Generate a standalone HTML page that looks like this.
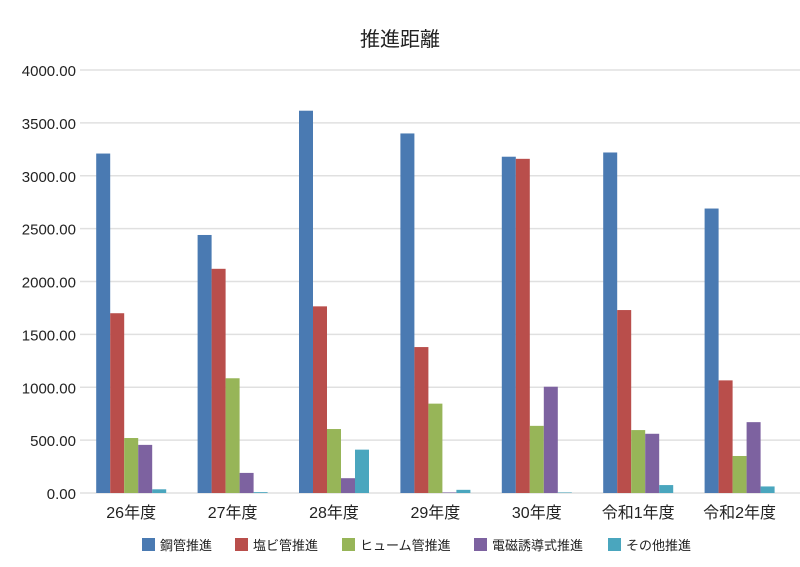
<!DOCTYPE html>
<html><head><meta charset="utf-8"><style>
body{margin:0;background:#fff;}
svg{display:block;font-family:"Liberation Sans","Noto Sans CJK JP",sans-serif;}
</style></head><body>
<svg id="c" width="800" height="567">
<text x="400" y="46" text-anchor="middle" font-size="20" fill="#222">推進距離</text>
<g id="grid"></g><g id="bars"></g><g id="xl"></g><g id="legend"></g>
</svg>
<script>
const categories=["26年度","27年度","28年度","29年度","30年度","令和1年度","令和2年度"];
const seriesNames=["鋼管推進","塩ビ管推進","ヒューム管推進","電磁誘導式推進","その他推進"];
const s0=[3210,2440,3615,3400,3180,3220,2690];
const s1=[1700,2120,1765,1380,3160,1730,1065];
const s2=[520,1085,605,845,635,595,350];
const s3=[455,190,140,5,1005,560,670];
const s4=[35,8,410,30,5,75,62];
const yTicks=[0,500,1000,1500,2000,2500,3000,3500,4000];
const series=[s0,s1,s2,s3,s4];
const colors=["#4a7ab2","#b94e4b","#97b558","#7d62a0","#4aa6be"];
const ns="http://www.w3.org/2000/svg";
const x0=80.5,cw=101.4,baseY=493,topY=70,yMax=4000,bw=14;
const y=v=>baseY-(v/yMax)*(baseY-topY);
function mk(t,a,p){const e=document.createElementNS(ns,t);for(const k in a)e.setAttribute(k,a[k]);p.appendChild(e);return e;}
const grid=document.getElementById('grid');
yTicks.forEach(t=>{
 const l=mk('line',{x1:80,x2:800,y1:y(t),y2:y(t),stroke:'#e0e0e0','stroke-width':1.5},grid);
 
 
 const tx=mk('text',{x:76,y:y(t)+6,'text-anchor':'end','font-size':15,fill:'#222'},grid);
 tx.textContent=t.toFixed(2);
 
 
});
const bars=document.getElementById('bars');
categories.forEach((c,i)=>{
 const cx=x0+cw*(i+0.5);
 series.forEach((s,j)=>{
  const r=mk('rect',{x:cx-2.5*bw+j*bw,y:y(s[i]),width:bw,height:baseY-y(s[i]),fill:colors[j]},bars);
  
  
 });
 const t=mk('text',{x:cx,y:518,'text-anchor':'middle','font-size':16,fill:'#222'},document.getElementById('xl'));
 t.textContent=c;
 
 
});
const lg=document.getElementById('legend');
const lx=[142,235,342,474,608];
seriesNames.forEach((n,j)=>{
 const g=mk('g',{},lg);
 
 
 mk('rect',{x:lx[j],y:538,width:13,height:13,fill:colors[j]},g);
 const t=mk('text',{x:lx[j]+18,y:550,'font-size':13,fill:'#222'},g);
 t.textContent=n;
});
</script>
</body></html>
